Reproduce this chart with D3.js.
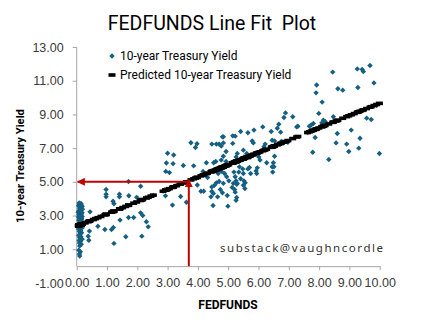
<!DOCTYPE html>
<html>
<head>
<meta charset="utf-8">
<script src="https://cdn.jsdelivr.net/npm/d3@7/dist/d3.min.js"></script>
<style>
  html, body { margin: 0; padding: 0; background: #fff; }
  svg { display: block; }
</style>
</head>
<body>
<svg id="chart" width="424" height="330"></svg>
<script>
// Monthly observations: effective federal funds rate (%) and 10-year Treasury yield (%)
const fedfunds = [
  0.08,0.12,0.18,0.10,0.15,0.07,0.17,0.12,0.09,0.16,0.11,0.19,0.08,0.14,0.10,0.18,0.06,0.13,0.09,0.16,
  0.11,0.07,0.14,0.10,0.18,0.08,0.12,0.09,0.15,0.10,0.07,0.12,0.09,0.10,0.28,
  0.14,0.09,0.06,0.16,0.11,0.19,0.08,0.13,0.05,0.17,0.10,0.15,0.07,0.12,0.18,0.06,0.14,0.09,0.16,0.11,
  0.07,0.13,0.15,0.10,0.12,
  0.44,0.55,0.62,0.70,0.42,0.38,0.40,0.80,0.93,1.15,1.21,1.43,1.23,1.52,1.62,1.71,1.88,2.11,2.18,2.15,2.30,2.36,2.45,2.53,
  0.97,0.97,0.97,1.41,1.41,1.20,1.23,1.72,1.98,1.71,2.11,
  2.85,3.00,3.20,2.96,3.18,2.94,3.06,3.30,3.52,3.86,3.77,3.97,3.92,2.93,3.16,3.43,3.62,3.98,4.10,4.19,4.43,
  4.28,4.52,4.59,4.46,4.61,4.70,4.81,4.17,4.32,4.46,4.46,4.54,4.61,4.70,4.65,4.50,4.74,4.81,4.67,4.78,
  6.89,7.13,6.84,7.30,6.67,6.62,6.14,6.42,6.73,5.85,5.65,5.41,5.15,5.23,5.15,4.84,4.84,4.77,5.79,5.83,
  6.22,6.18,6.45,6.53,6.75,6.97,5.50,5.30,5.26,4.93,4.84,5.52,5.61,5.72,6.01,6.05,6.27,6.49,6.53,6.45,
  6.47,5.37,5.48,5.35,5.50,5.65,5.74,5.92,5.94,4.93,4.91,4.88,4.95,5.02,4.84,5.19,5.23,5.26,5.17,5.13,
  5.28,5.41,5.52,5.56,5.21,5.23,5.28,5.26,4.99,4.77,4.77,4.51,4.97,5.30,5.50,5.55,5.96,5.70,6.51,7.26,
  7.62,9.68,9.26,9.42,9.46,8.45,7.92,7.90,8.62,8.78,9.28,9.81,8.10,7.99,8.47,7.81,7.74,7.68,8.14,8.20,
  8.09,8.16,9.57,9.72,7.87,8.60,9.06,9.35,8.56,8.91,9.31,7.79,8.98,9.99,8.32,9.16,9.90
];
const treasury10y = [
  3.75,3.62,3.55,3.45,3.35,3.25,3.15,3.02,2.90,2.82,2.70,2.62,2.55,2.45,2.35,2.28,2.20,2.12,2.05,1.98,
  1.90,1.82,1.75,1.68,1.60,1.52,1.45,1.38,1.30,1.20,0.95,0.85,0.72,0.60,2.58,
  3.72,3.65,3.58,3.50,3.42,3.38,3.30,3.28,3.20,3.18,3.10,3.08,3.05,3.00,2.95,2.92,2.88,2.85,2.80,2.75,
  2.72,2.68,3.62,2.90,3.55,
  3.22,2.78,2.82,2.37,2.08,1.78,1.54,2.95,2.17,2.17,2.29,2.73,1.35,3.45,1.74,2.89,2.89,3.16,3.00,1.78,2.63,2.33,4.15,4.20,
  4.55,4.27,4.11,4.27,4.11,3.85,3.70,4.18,4.08,5.02,4.74,
  4.45,6.70,6.59,6.12,6.08,5.62,5.55,4.80,5.97,5.95,7.32,7.26,7.04,4.17,3.62,4.13,3.79,4.81,4.44,4.44,4.11,
  6.13,6.13,6.21,7.24,7.24,7.24,7.67,5.62,5.26,4.43,4.70,4.79,4.94,5.02,4.11,3.60,4.55,4.35,5.50,5.62,
  9.09,8.86,8.82,8.30,8.42,8.18,8.26,7.99,7.95,8.07,7.91,7.99,7.73,7.71,7.28,7.67,7.31,7.12,7.43,7.31,
  7.24,7.08,7.47,7.43,7.39,7.35,6.88,6.68,6.48,6.80,6.52,6.48,6.68,6.45,6.48,6.29,6.13,6.13,6.52,5.89,
  5.58,5.89,5.77,5.58,5.50,5.77,5.50,5.65,5.50,6.21,5.89,5.50,5.30,5.06,4.91,5.58,5.30,5.06,4.91,4.67,
  4.86,5.18,5.06,4.94,4.55,4.39,4.07,3.91,3.56,6.29,5.85,4.31,4.19,4.90,4.80,4.61,5.83,5.85,5.89,8.26,
  7.92,11.90,11.70,11.67,11.55,11.51,10.75,10.28,10.52,10.44,10.60,10.87,9.73,9.06,8.86,8.46,8.38,8.30,8.66,8.58,
  8.50,8.42,8.78,8.70,7.63,7.87,8.07,7.59,7.31,7.24,7.00,6.76,6.80,6.68,6.33,9.05,9.55
];

// Axis ticks and range
const xTicks = [0,1,2,3,4,5,6,7,8,9,10];
const yTicks = [-1,1,3,5,7,9,11,13];
const xDomain = [0, 10];
const yDomain = [-1, 13];

// Annotation: read-off at FEDFUNDS 3.7 -> yield 5.0
const guideX = 3.7;
const guideY = 5.0;

const chartTitle = "FEDFUNDS Line Fit  Plot";
const xTitle = "FEDFUNDS";
const yTitle = "10-year Treasury Yield";
const seriesNames = ["10-year Treasury Yield", "Predicted 10-year Treasury Yield"];
const credit = "substack@vaughncordle";

const pointColor = "#156082";
const lineColor = "#000000";
const guideColor = "#C00000";
const axisColor = "#A6A6A6";

const svg = d3.select("#chart");

const x = d3.scaleLinear().domain(xDomain).range([76.7, 379.7]);
const y = d3.scaleLinear().domain(yDomain).range([283, 47]);

// Least-squares line through the observations
const n = fedfunds.length;
const mx = d3.mean(fedfunds), my = d3.mean(treasury10y);
let sxy = 0, sxx = 0;
for (let i = 0; i < n; i++) {
  sxy += (fedfunds[i] - mx) * (treasury10y[i] - my);
  sxx += (fedfunds[i] - mx) ** 2;
}
const slope = sxy / sxx;
const intercept = my - slope * mx;
const predicted = fedfunds.map(v => intercept + slope * v);

const fmt = v => v.toFixed(2);
const tickFont = "'Liberation Sans', Arial, sans-serif";
const textFont = "Roboto, 'Liberation Sans', sans-serif";

// Title
svg.append("text")
  .attr("x", 212).attr("y", 30)
  .attr("text-anchor", "middle")
  .attr("font-family", textFont)
  .attr("font-size", 19.5)
  .attr("fill", "#000")
  .style("white-space", "pre")
  .text(chartTitle);

// Y axis
const yAxis = svg.append("g")
  .attr("transform", `translate(${x(0)},0)`)
  .call(d3.axisLeft(y).tickValues(yTicks).tickFormat(fmt).tickSize(4).tickPadding(9));
yAxis.select(".domain").remove();
yAxis.selectAll(".tick line").attr("stroke", axisColor).filter(d => d < 0).remove();
yAxis.selectAll(".tick text")
  .attr("font-family", tickFont).attr("font-size", 12.5).attr("fill", "#3a3a3a");
yAxis.append("line")
  .attr("x1", 0).attr("x2", 0)
  .attr("y1", y(0)).attr("y2", y(13))
  .attr("stroke", axisColor).attr("stroke-width", 1);

// X axis crossing at zero, labels at the bottom of the plot
const xAxis = svg.append("g")
  .attr("transform", `translate(0,${y(0)})`)
  .call(d3.axisBottom(x).tickValues(xTicks).tickFormat(fmt).tickSizeInner(4).tickSizeOuter(0));
xAxis.select(".domain").attr("stroke", axisColor);
xAxis.selectAll(".tick line").attr("stroke", axisColor);
xAxis.selectAll(".tick text")
  .attr("font-family", tickFont).attr("font-size", 12.5).attr("fill", "#3a3a3a")
  .attr("y", y(-1) - y(0)).attr("dy", "0.36em");

// Axis titles
svg.append("text")
  .attr("x", 228).attr("y", 309)
  .attr("text-anchor", "middle")
  .attr("font-family", textFont).attr("font-weight", "bold").attr("font-size", 12)
  .attr("fill", "#000")
  .text(xTitle);
svg.append("text")
  .attr("transform", `translate(24,166) rotate(-90)`)
  .attr("text-anchor", "middle")
  .attr("font-family", textFont).attr("font-weight", "bold").attr("font-size", 11.2)
  .attr("fill", "#000")
  .text(yTitle);

// Marker shapes
const diamond = r => `M0,${-r}L${r},0L0,${r}L${-r},0Z`;
const dashW = 7, dashH = 3.6;

// Observations
svg.append("g").selectAll("path")
  .data(fedfunds.map((v, i) => [v, treasury10y[i]]))
  .join("path")
  .attr("d", diamond(2.7))
  .attr("transform", d => `translate(${x(d[0])},${y(d[1])})`)
  .attr("fill", pointColor);

// Fitted values
svg.append("g").selectAll("rect")
  .data(fedfunds.map((v, i) => [v, predicted[i]]))
  .join("rect")
  .attr("x", d => x(d[0]) - dashW / 2)
  .attr("y", d => y(d[1]) - dashH / 2)
  .attr("width", dashW).attr("height", dashH)
  .attr("fill", lineColor);

// Read-off guide arrows
const defs = svg.append("defs");
defs.append("marker")
  .attr("id", "arrowhead")
  .attr("viewBox", "0 0 10 10")
  .attr("refX", 9).attr("refY", 5)
  .attr("markerWidth", 4).attr("markerHeight", 4)
  .attr("orient", "auto")
  .append("path").attr("d", "M0,0L10,5L0,10Z").attr("fill", guideColor);

svg.append("line")
  .attr("x1", x(guideX)).attr("x2", x(guideX))
  .attr("y1", y(0)).attr("y2", y(guideY) - 2)
  .attr("stroke", guideColor).attr("stroke-width", 2)
  .attr("marker-end", "url(#arrowhead)");
svg.append("line")
  .attr("x1", x(guideX)).attr("x2", x(0) + 1)
  .attr("y1", y(guideY)).attr("y2", y(guideY))
  .attr("stroke", guideColor).attr("stroke-width", 2)
  .attr("marker-end", "url(#arrowhead)");

// Legend
const legend = svg.append("g").attr("font-family", textFont).attr("font-size", 12).attr("fill", "#000");
legend.append("path").attr("d", diamond(2.7)).attr("transform", "translate(112,56)").attr("fill", pointColor);
legend.append("text").attr("x", 120).attr("y", 56).attr("dy", "0.35em").text(seriesNames[0]);
legend.append("rect").attr("x", 108.5).attr("y", 73.2).attr("width", dashW).attr("height", dashH).attr("fill", lineColor);
legend.append("text").attr("x", 120).attr("y", 75).attr("dy", "0.35em").text(seriesNames[1]);

// Credit line
svg.append("text")
  .attr("x", 220).attr("y", 248).attr("dy", "0.35em")
  .attr("font-family", "'Noto Sans', sans-serif").attr("font-size", 11.5)
  .attr("letter-spacing", 1.55)
  .attr("fill", "#333")
  .text(credit);
</script>
</body>
</html>
